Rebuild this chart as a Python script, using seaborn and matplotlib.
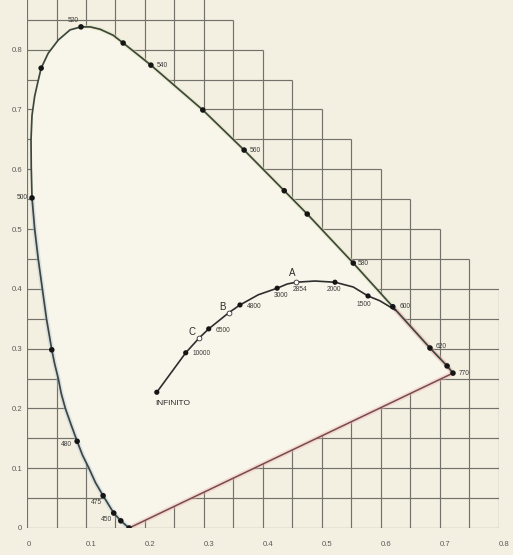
import numpy as np
import pandas as pd
import matplotlib
matplotlib.use("Agg")
import matplotlib.pyplot as plt
import seaborn as sns

# ---------------- data ----------------
locus_x = [0.173, 0.159, 0.147, 0.129, 0.116, 0.105, 0.094, 0.085, 0.075, 0.065,
           0.058, 0.053, 0.047, 0.042, 0.033, 0.026, 0.019, 0.013, 0.0085, 0.0072,
           0.0068, 0.0085, 0.013, 0.018, 0.024, 0.036, 0.053, 0.073, 0.0915, 0.107,
           0.124, 0.146, 0.163, 0.186, 0.210, 0.298, 0.368, 0.436, 0.475, 0.553,
           0.620, 0.683, 0.712, 0.722]
locus_y = [0.000, 0.012, 0.025, 0.054, 0.076, 0.100, 0.122, 0.145, 0.172, 0.200,
           0.225, 0.250, 0.274, 0.298, 0.350, 0.400, 0.450, 0.500, 0.552, 0.604,
           0.649, 0.690, 0.722, 0.744, 0.769, 0.794, 0.816, 0.833, 0.838, 0.838,
           0.834, 0.824, 0.811, 0.793, 0.774, 0.699, 0.632, 0.564, 0.525, 0.443,
           0.370, 0.301, 0.271, 0.259]

dot_x = [0.173, 0.159, 0.147, 0.129, 0.085, 0.042, 0.0085, 0.024, 0.0915, 0.163,
         0.210, 0.298, 0.368, 0.436, 0.475, 0.553, 0.620, 0.683, 0.712, 0.722]
dot_y = [0.000, 0.012, 0.025, 0.054, 0.145, 0.298, 0.552, 0.769, 0.838, 0.811,
         0.774, 0.699, 0.632, 0.564, 0.525, 0.443, 0.370, 0.301, 0.271, 0.259]

wl_labels = ["450", "475", "480", "500", "520", "540", "560", "580", "600", "620", "770"]
wl_lx = [0.144, 0.127, 0.076, 0.0017, 0.078, 0.220, 0.378, 0.561, 0.631, 0.693, 0.731]
wl_ly = [0.015, 0.042, 0.140, 0.552, 0.849, 0.774, 0.632, 0.443, 0.370, 0.304, 0.259]
wl_ha = ["right", "right", "right", "right", "center", "left", "left", "left", "left", "left", "left"]

planck_x = [0.220, 0.269, 0.292, 0.308, 0.342, 0.361, 0.392, 0.424, 0.441, 0.456,
            0.488, 0.522, 0.553, 0.578, 0.598, 0.625]
planck_y = [0.227, 0.293, 0.318, 0.333, 0.360, 0.373, 0.390, 0.401, 0.408, 0.411,
            0.413, 0.411, 0.403, 0.388, 0.380, 0.364]

temp_dot_x = [0.220, 0.269, 0.308, 0.361, 0.424, 0.522, 0.578]
temp_dot_y = [0.227, 0.293, 0.333, 0.373, 0.401, 0.411, 0.388]
temp_labels = ["INFINITO", "10000", "6500", "4800", "3000", "2000", "1500"]
temp_lx = [0.217, 0.280, 0.319, 0.373, 0.419, 0.508, 0.558]
temp_ly = [0.208, 0.291, 0.331, 0.371, 0.389, 0.399, 0.374]

illum_names = ["A", "B", "C"]
illum_x = [0.456, 0.342, 0.292]
illum_y = [0.411, 0.360, 0.318]
illum_lx = [0.449, 0.332, 0.280]
illum_ly = [0.426, 0.369, 0.327]
a_temp_label = "2854"
a_temp_pos = (0.451, 0.399)

x_ticks = [0, 0.1, 0.2, 0.3, 0.4, 0.5, 0.6, 0.7, 0.8]
x_tick_labels = ["0", "0.1", "0.2", "0.3", "0.4", "0.5", "0.6", "0.7", "0.8"]
y_ticks = [0, 0.1, 0.2, 0.3, 0.4, 0.5, 0.6, 0.7, 0.8]
y_tick_labels = ["0", "0.1", "0.2", "0.3", "0.4", "0.5", "0.6", "0.7", "0.8"]
grid_vals = [round(0.05 * i, 2) for i in range(18)]

# ---------------- styling ----------------
sns.set_theme(style="white")
plt.rcParams["font.family"] = ["Liberation Sans", "DejaVu Sans"]

BG = "#f3f0e1"
FILL = "#f8f6ea"
GRID = "#72726a"
OUT = "#3c473d"

fig = plt.figure(figsize=(5.13, 5.55), dpi=100, facecolor=BG)
ax = fig.add_axes([27 / 513, 27 / 555, 472 / 513, 528 / 555])
ax.set_facecolor(BG)
XMAX, YMAX = 0.8, 528 / 598
ax.set_xlim(0, XMAX)
ax.set_ylim(0, YMAX)
for s in ax.spines.values():
    s.set_visible(False)

# staircase grid
for g in grid_vals:
    if g <= XMAX + 1e-9:
        ax.vlines(g, 0, min(1.2 - g, 1.0), color=GRID, lw=0.85, zorder=1)
    if g <= YMAX:
        ax.hlines(g, 0, min(1.2 - g, XMAX), color=GRID, lw=0.85, zorder=1)

# locus fill
ax.fill(locus_x + [locus_x[0]], locus_y + [locus_y[0]], color=FILL, zorder=2, lw=0)

# subtle coloured glows along edges
ax.plot(locus_x[0:19], locus_y[0:19], color="#a9bde0", lw=3.5, alpha=0.35, zorder=2.5,
        solid_capstyle="round")
ax.plot(locus_x[28:41], locus_y[28:41], color="#dfe2ae", lw=3.0, alpha=0.45, zorder=2.5)
ax.plot([locus_x[-1], locus_x[0]], [locus_y[-1], locus_y[0]], color="#eab4b4", lw=3.5,
        alpha=0.4, zorder=2.5)
ax.plot(locus_x[-4:], locus_y[-4:], color="#e8a0a0", lw=3.5, alpha=0.45, zorder=2.5)

# outline
df_loc = pd.DataFrame({"x": locus_x, "y": locus_y})
sns.lineplot(data=df_loc, x="x", y="y", sort=False, estimator=None, color=OUT, lw=1.25,
             ax=ax, zorder=3)
sns.lineplot(x=[locus_x[-1], locus_x[0]], y=[locus_y[-1], locus_y[0]], sort=False,
             estimator=None, color="#7a4a4a", lw=1.1, ax=ax, zorder=3)
sns.scatterplot(x=dot_x, y=dot_y, color="#151515", s=16, edgecolor="none", ax=ax, zorder=4)

# planckian locus
df_pl = pd.DataFrame({"x": planck_x, "y": planck_y})
sns.lineplot(data=df_pl, x="x", y="y", sort=False, estimator=None, color="#2e2e2e",
             lw=1.2, ax=ax, zorder=3)
sns.scatterplot(x=temp_dot_x, y=temp_dot_y, color="#151515", s=14, edgecolor="none",
                ax=ax, zorder=4)
sns.scatterplot(x=illum_x, y=illum_y, color="white", s=12, edgecolor="#333333",
                linewidth=0.6, ax=ax, zorder=4)

# texts
small = dict(fontsize=4.8, color="#3a3a3a", va="center", zorder=5)
for t, x, y, ha in zip(wl_labels, wl_lx, wl_ly, wl_ha):
    ax.text(x, y, t, ha=ha, clip_on=False, **small)
for t, x, y in zip(temp_labels, temp_lx, temp_ly):
    if t == "INFINITO":
        ax.text(x, y, t, ha="left", va="center", fontsize=6.0, color="#2a2a2a", zorder=5)
    else:
        ax.text(x, y, t, ha="left", **small)
ax.text(a_temp_pos[0], a_temp_pos[1], a_temp_label, ha="left", **small)
for t, x, y in zip(illum_names, illum_lx, illum_ly):
    ax.text(x, y, t, ha="center", va="center", fontsize=7, color="#2a2a2a", zorder=5)

# ticks
ax.set_xticks(x_ticks, x_tick_labels)
ax.set_yticks(y_ticks, y_tick_labels)
ax.tick_params(axis="both", length=0, labelsize=5.6, colors="#5a5a5a")
ax.tick_params(axis="x", pad=9)
ax.tick_params(axis="y", pad=3.5)
for lab in ax.get_xticklabels():
    lab.set_ha("left")
ax.set_xlabel("")
ax.set_ylabel("")

fig.savefig("out.png", dpi=100, facecolor=BG)
